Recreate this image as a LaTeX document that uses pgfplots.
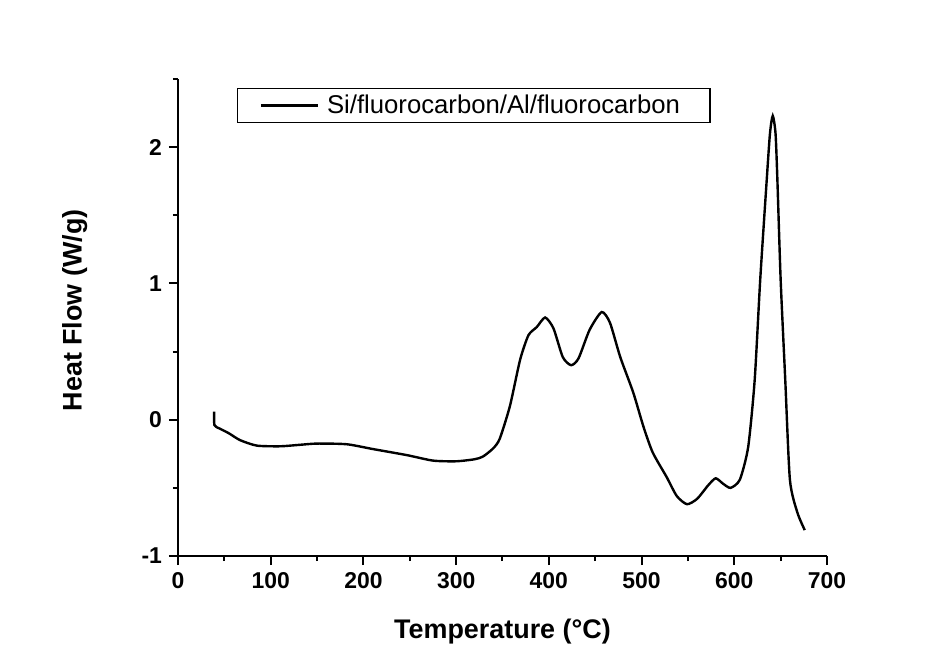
\documentclass[border=0pt]{standalone}
\usepackage{pgfplots}
\pgfplotsset{compat=1.18}
\usepackage{fontspec}
\setmainfont{Liberation Sans}

\begin{document}
\begin{tikzpicture}
\useasboundingbox (-89bp,-52.5bp) rectangle (385bp,278bp);
\begin{axis}[
  scale only axis,
  width=324.5bp, height=238.5bp,
  xmin=0, xmax=700, ymin=-1, ymax=2.5,
  axis lines*=left,
  axis line style={line width=1.1bp},
  xtick={0,100,...,700},
  ytick={-1,0,1,2},
  minor xtick={50,150,...,650},
  minor ytick={-0.5,0.5,1.5,2.5},
  tick align=outside,
  major tick length=4.5bp,
  minor tick length=2.5bp,
  every tick/.style={black, line width=1bp},
  /pgf/number format/assume math mode=true,
  tick label style={font=\fontsize{11.5}{13}\selectfont\bfseries},
  xlabel={Temperature (°C)},
  ylabel={Heat Flow (W/g)},
  label style={font=\fontsize{13.5}{15}\selectfont\bfseries},
  xlabel style={at={(axis description cs:0.5,-0.159)}, anchor=center},
  ylabel style={at={(axis description cs:-0.159,0.515)}, anchor=center},
  legend style={at={(rel axis cs:0.091,0.981)}, anchor=north west,
    draw=black, line width=0.6bp, font=\fontsize{12.9}{14}\selectfont,
    inner xsep=11bp, inner ysep=1bp,
    nodes={inner xsep=4bp}},
  legend image code/.code={\draw[#1] (0cm,0cm) -- (28.5bp,0cm);},
]
\addplot[black, line width=1.2bp, smooth, tension=0.4] coordinates {
(39,0.06) (39.3,-0.04) (45,-0.065) (55,-0.10) (67,-0.15) (85,-0.19)
(110,-0.195) (130,-0.185) (150,-0.175) (182,-0.18) (210,-0.215)
(247,-0.26) (275,-0.3) (300,-0.305) (320,-0.29) (329,-0.27)
(340,-0.21) (347,-0.14) (358,0.1) (369,0.44) (378,0.62) (387,0.68)
(396,0.75) (405,0.67) (415,0.46) (424,0.4) (432,0.45) (444,0.66)
(457,0.79) (466,0.71) (477,0.46) (491,0.2) (502,-0.05) (512,-0.24)
(527,-0.42) (538,-0.56) (549,-0.62) (560,-0.58) (572,-0.48) (580,-0.43)
(588,-0.47) (596,-0.5) (606,-0.44) (615,-0.2) (622,0.29) (628,1.03)
(635,1.76) (638.5,2.1) (641.5,2.23) (644.5,2.1) (646.5,1.76) (650,1.03)
(655,0.29) (660,-0.44) (668,-0.68) (676,-0.81)
};
\addlegendentry{Si/fluorocarbon/Al/fluorocarbon}
\end{axis}
\end{tikzpicture}
\end{document}
